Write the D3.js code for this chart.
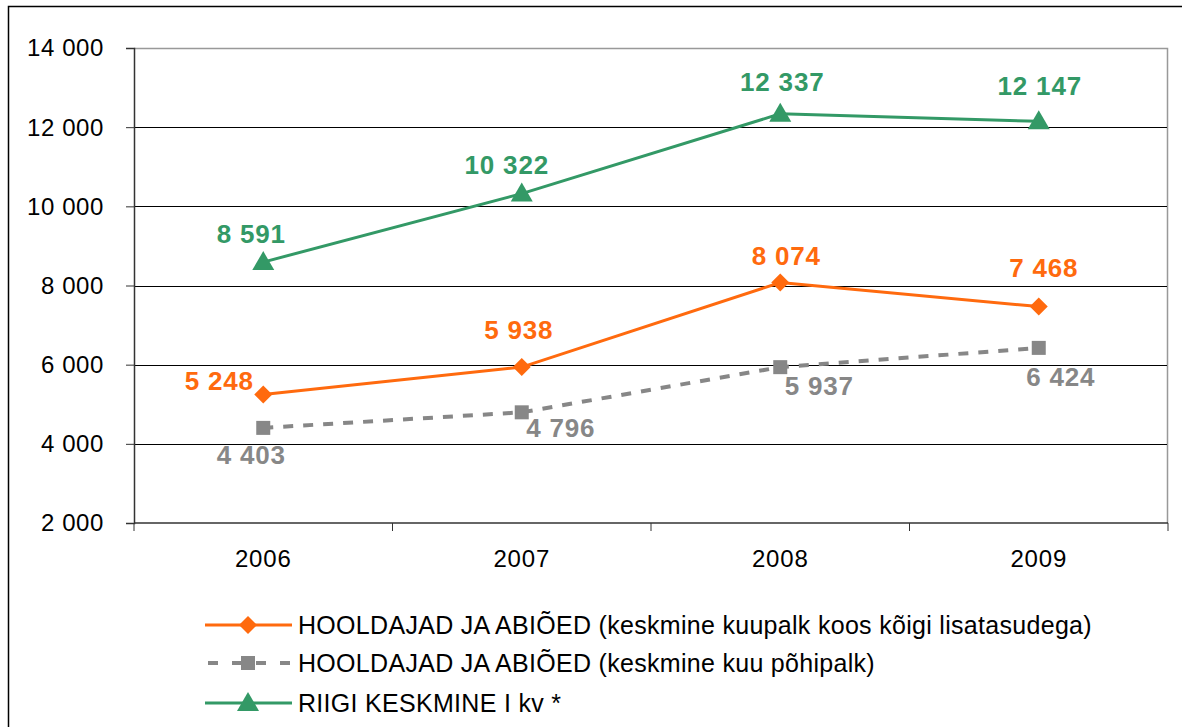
<!DOCTYPE html>
<html><head><meta charset="utf-8">
<script src="https://cdn.jsdelivr.net/npm/d3@7"></script>
<style>body{margin:0;background:#fff}svg{display:block}text{font-family:"Liberation Sans",Arial,sans-serif}</style>
</head><body>
<svg id="c" width="1182" height="727"></svg>
<script>
const years = ["2006","2007","2008","2009"];
const koosLisatasudega = [5248, 5938, 8074, 7468];
const pohipalk = [4403, 4796, 5937, 6424];
const riigiKeskmine = [8591, 10322, 12337, 12147];
const yTicks = [2000, 4000, 6000, 8000, 10000, 12000, 14000];
const seriesNames = [
  "HOOLDAJAD JA ABIÕED (keskmine kuupalk koos kõigi lisatasudega)",
  "HOOLDAJAD JA ABIÕED (keskmine kuu põhipalk)",
  "RIIGI KESKMINE I kv *"
];

const svg = d3.select("#c");
const L = 134, R = 1168, T = 48, B = 523;
const x = d3.scaleBand().domain(years).range([L, R]);
const y = d3.scaleLinear().domain([2000, 14000]).range([B, T]);
const fmt = v => d3.format(",")(v).replace(/,/g, " ");

// outer frame
svg.append("path").attr("d", `M8.5,727 V6.5 H1182`).attr("fill","none").attr("stroke","#000").attr("stroke-width",1.5);

// plot border (gray top/right)
svg.append("path").attr("d", `M${L},${T+0.5} H${R-0.5} V${B}`).attr("fill","none").attr("stroke","#999").attr("stroke-width",1.5);

// gridlines
svg.append("g").selectAll("line").data(yTicks.filter(d => d > 2000 && d < 14000)).join("line")
  .attr("x1", L).attr("x2", R-1).attr("y1", d => Math.round(y(d))+0.5).attr("y2", d => Math.round(y(d))+0.5)
  .attr("stroke", "#000").attr("stroke-width", 1);

// y axis
const ya = svg.append("g").attr("transform", `translate(${L},0)`)
  .call(d3.axisLeft(y).tickValues(yTicks).tickFormat(fmt).tickSize(8).tickPadding(22));
ya.select(".domain").attr("stroke", "#333").attr("stroke-width", 1.5);
ya.selectAll(".tick line").attr("stroke", "#333");
ya.selectAll("text").attr("font-size", 24).attr("fill", "#000").attr("dy", "0.33em")
  .attr("font-family", '"Liberation Sans",Arial,sans-serif').style("letter-spacing", "0.6px");

// x axis
const xa = svg.append("g").attr("transform", `translate(0,${B})`);
xa.append("line").attr("x1", L).attr("x2", R).attr("y1", 0).attr("y2", 0).attr("stroke", "#333").attr("stroke-width", 1.5);
xa.selectAll("line.t").data(d3.range(years.length + 1)).join("line").attr("class","t")
  .attr("x1", i => L + i * x.bandwidth()).attr("x2", i => L + i * x.bandwidth())
  .attr("y1", 0).attr("y2", 8).attr("stroke", "#333");
xa.selectAll("text").data(years).join("text")
  .attr("x", d => x(d) + x.bandwidth()/2).attr("y", 44).attr("text-anchor","middle")
  .attr("font-size", 24).style("letter-spacing", "0.8px").text(d => d);

const cx = d => x(d) + x.bandwidth()/2;

// label offsets (layout only): dx of label centre, dy of baseline from point
const series = [
  {vals: koosLisatasudega, color: "#FF6A0E", width: 3, dash: null, marker: "diamond",
   ldx: [-44, -3, 6, 5], ldy: [-4, -28, -18, -30]},
  {vals: pohipalk, color: "#878787", width: 4, dash: "10,10", marker: "square",
   ldx: [-12, 39, 39, 22], ldy: [36, 25, 28, 38]},
  {vals: riigiKeskmine, color: "#339966", width: 3, dash: null, marker: "triangle",
   ldx: [-12, -15, 2, 1], ldy: [-19, -20, -23, -26]}
];

function drawMarker(g, type, color, px, py) {
  if (type === "diamond") {
    g.append("path").attr("d", `M${px},${py-9} L${px+9},${py} L${px},${py+9} L${px-9},${py} Z`).attr("fill", color);
  } else if (type === "square") {
    g.append("rect").attr("x", px-7).attr("y", py-7).attr("width", 14).attr("height", 14).attr("fill", color);
  } else {
    g.append("path").attr("d", `M${px},${py-11} L${px+11},${py+8} L${px-11},${py+8} Z`).attr("fill", color);
  }
}

const line = d3.line().x((d,i) => cx(years[i])).y(d => y(d));
const dataG = svg.append("g");
series.forEach(s => {
  dataG.append("path").datum(s.vals).attr("d", line).attr("fill","none")
    .attr("stroke", s.color).attr("stroke-width", s.width).attr("stroke-dasharray", s.dash);
});
series.forEach(s => {
  s.vals.forEach((v,i) => drawMarker(dataG, s.marker, s.color, cx(years[i]), y(v)));
});
series.forEach(s => {
  s.vals.forEach((v,i) => {
    const px = cx(years[i]), py = y(v);
    dataG.append("text").attr("x", px + s.ldx[i]).attr("y", py + s.ldy[i]).attr("text-anchor", "middle")
      .attr("font-size", 26).attr("font-weight", "bold").style("letter-spacing", "0.8px")
      .attr("fill", s.color).text(fmt(v));
  });
});

// legend
const lg = svg.append("g");
const legendY = [625, 663, 703];
series.forEach((s, i) => {
  const ly = legendY[i];
  lg.append("line").attr("x1", 205).attr("x2", 292).attr("y1", ly).attr("y2", ly)
    .attr("stroke", s.color).attr("stroke-width", s.width).attr("stroke-dasharray", s.dash ? "10,14" : null)
    .attr("stroke-dashoffset", s.dash ? -3 : null);
  drawMarker(lg, s.marker, s.color, 248, ly);
  lg.append("text").attr("x", 298).attr("y", ly + 9).attr("font-size", 25).style("letter-spacing", "0.3px")
    .attr("fill", "#000").text(seriesNames[i]);
});
</script>
</body></html>
